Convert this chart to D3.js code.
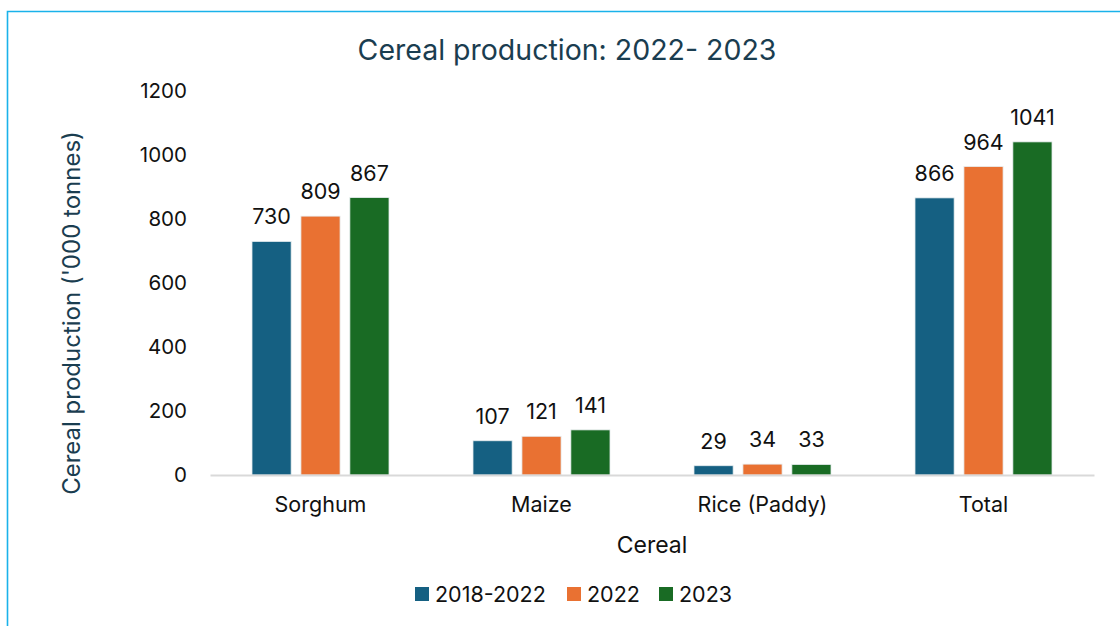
<!DOCTYPE html>
<html><head><meta charset="utf-8">
<script src="https://cdn.jsdelivr.net/npm/d3@7"></script>
<style>body{margin:0;background:#fff}svg{display:block}text{font-family:Inter,"Open Sans",sans-serif}</style>
</head><body>
<svg id="c" width="1120" height="626"></svg>
<script>
const categories = ["Sorghum","Maize","Rice (Paddy)","Total"];
const seriesNames = ["2018-2022","2022","2023"];
const values2018_2022 = [730,107,29,866];
const values2022 = [809,121,34,964];
const values2023 = [867,141,33,1041];
const yTicks = [0,200,400,600,800,1000,1200];
const colors = ["#156082","#E97132","#196B24"];

const allSeries = [values2018_2022, values2022, values2023];
const svg = d3.select("#c");
// border
svg.append("path").attr("d","M7.5,626 V11.5 H1120").attr("fill","none").attr("stroke","#1ab2ea").attr("stroke-width",1.6);

const x0 = d3.scaleBand().domain(categories).range([210,1094]).paddingInner(0.38).paddingOuter(0.19);
const x1 = d3.scaleBand().domain(seriesNames).range([0,x0.bandwidth()]).paddingInner(0.2);
const y = d3.scaleLinear().domain([0,1200]).range([475,91]);

// y axis ticks labels
const yAxis = d3.axisLeft(y).tickValues(yTicks).tickFormat(d3.format("d")).tickSize(0).tickPadding(23);
const ga = svg.append("g").attr("transform","translate(210,0)").call(yAxis);
ga.select(".domain").remove();
ga.selectAll("text").attr("font-size",20.5).attr("fill","#111").attr("font-family","Inter");

const groups = svg.append("g").selectAll("g").data(categories).join("g")
  .attr("transform",d=>`translate(${x0(d)},0)`);
groups.selectAll("rect").data((d,i)=>seriesNames.map((s,j)=>({s,v:allSeries[j][i],j})))
  .join("rect")
  .attr("x",d=>x1(d.s)).attr("width",x1.bandwidth())
  .attr("y",d=>y(d.v)).attr("height",d=>475-y(d.v))
  .attr("fill",d=>colors[d.j]).attr("stroke","#e8eef0").attr("stroke-width",0.8);
groups.selectAll("text").data((d,i)=>seriesNames.map((s,j)=>({s,v:allSeries[j][i],j})))
  .join("text")
  .attr("x",d=>x1(d.s)+x1.bandwidth()/2).attr("y",d=>y(d.v)-17)
  .attr("text-anchor","middle").attr("font-size",21.5).attr("fill","#111")
  .text(d=>d.v);

// x axis
const xa = d3.axisBottom(x0).tickSize(0).tickPadding(22);
const gx = svg.append("g").attr("transform","translate(0,475)").call(xa);
gx.select(".domain").attr("stroke","#d9d9d9").attr("stroke-width",2);
gx.selectAll("text").attr("font-size",21.5).attr("fill","#111").attr("font-family","Inter");

// titles
svg.append("text").attr("x",567).attr("y",60).attr("text-anchor","middle")
  .attr("font-size",28.5).attr("fill","#1a3d50").text("Cereal production: 2022- 2023");
svg.append("text").attr("transform","translate(80,313) rotate(-90)").attr("text-anchor","middle")
  .attr("font-size",24).attr("fill","#1a3d50").text("Cereal production ('000 tonnes)");
svg.append("text").attr("x",652).attr("y",553).attr("text-anchor","middle")
  .attr("font-size",23).attr("fill","#111").text("Cereal");

// legend
const legX = [415,567,659];
const lg = svg.append("g").selectAll("g").data(seriesNames).join("g")
  .attr("transform",(d,i)=>`translate(${legX[i]},587)`);
lg.append("rect").attr("width",14).attr("height",14).attr("fill",(d,i)=>colors[i]);
lg.append("text").attr("x",20).attr("y",14.5).attr("font-size",21.5).attr("fill","#111").text(d=>d);
</script>
</body></html>
